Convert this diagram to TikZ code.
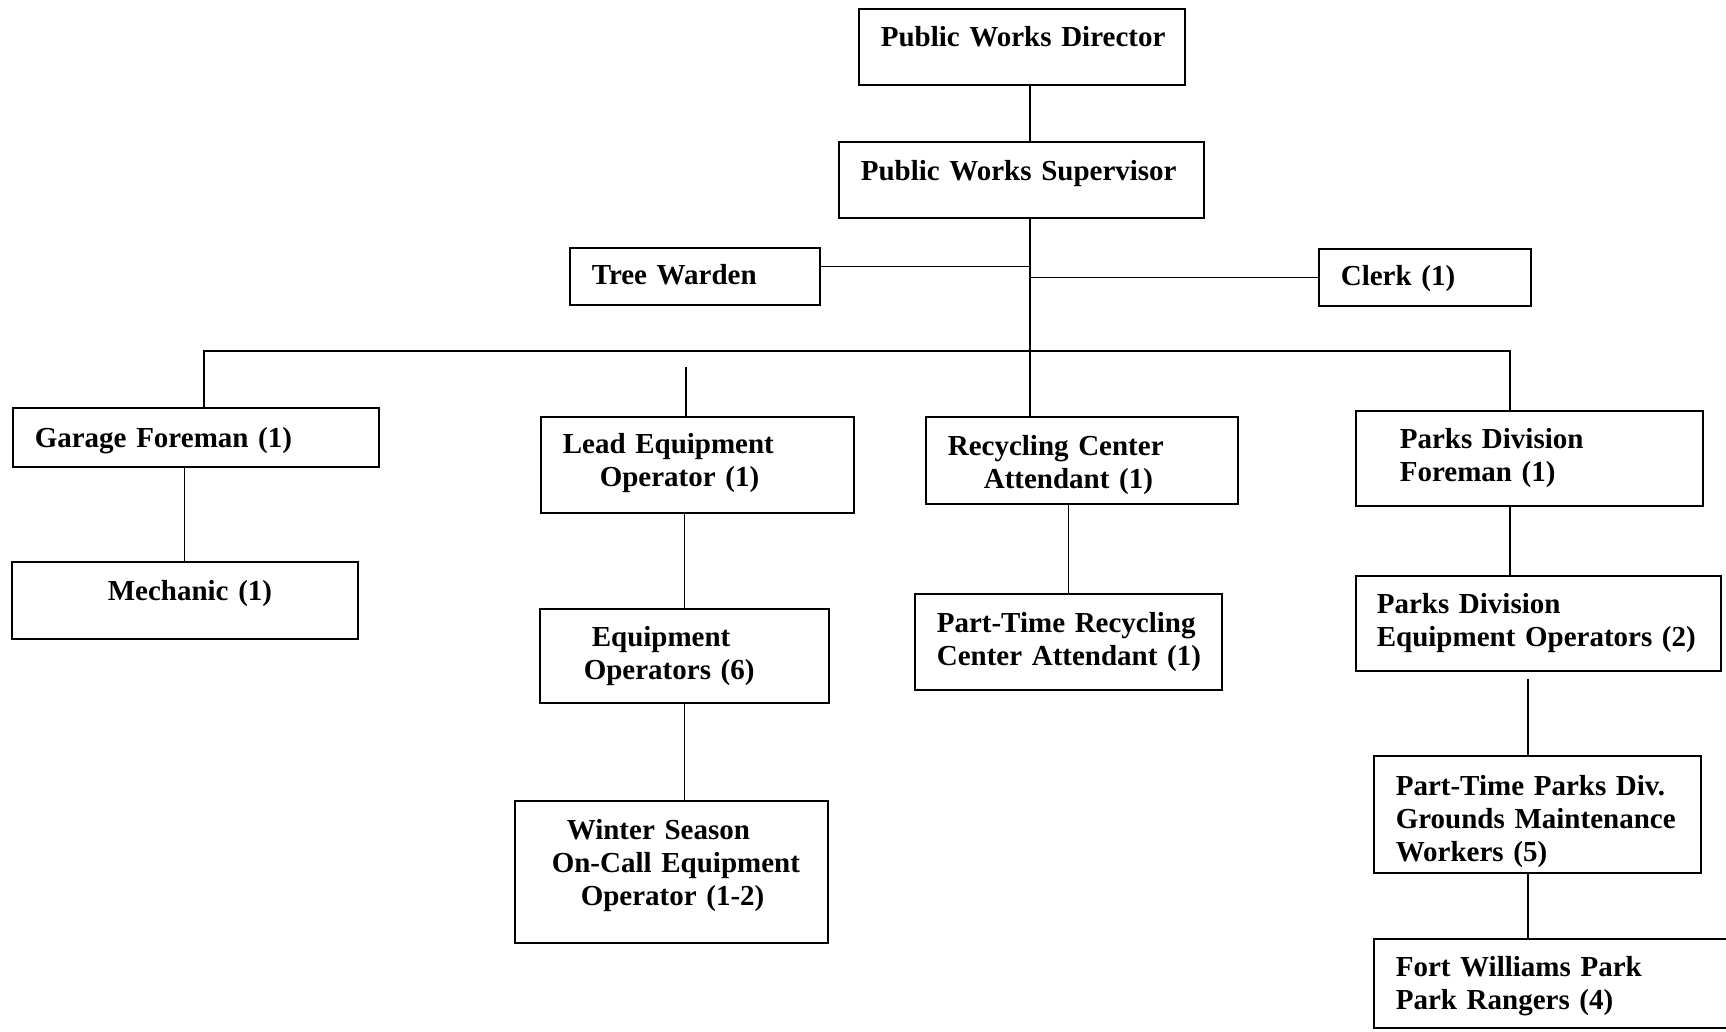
\documentclass[tikz,border=0pt]{standalone}
\usepackage{fontspec}
\setmainfont{Liberation Serif}
\usepackage{tikz}

\begin{document}
\begin{tikzpicture}[x=1pt, y=-1pt,
    post/.style={draw, line width=1.6pt, anchor=north west, align=left,
        inner xsep=12pt, inner ysep=0pt,
        font=\bfseries\fontsize{29}{33}\selectfont},
    link/.style={line width=1.2pt}]
    \clip (0,0) rectangle (1726,1031);
    \fill[white] (0,0) rectangle (1726,1031);

    % top of the chart
    \node[post, text width=302pt, text height=38pt, text depth=38pt] (dir) at (858,8) {\hspace*{10pt}Public Works Director};
    \node[post, text width=341pt, text height=39pt, text depth=37pt] (sup) at (838,141) {\hspace*{10pt}Public Works Supervisor};
    \node[post, text width=226pt, text height=37pt, text depth=20pt] (tree) at (569,247) {\hspace*{10pt}Tree Warden};
    \node[post, text width=188pt, text height=37pt, text depth=20pt] (clerk) at (1318,248) {\hspace*{10pt}Clerk (1)};

    % divisions
    \node[post, text width=342pt, text height=40pt, text depth=19pt] (garage) at (12,407) {\hspace*{10pt}Garage Foreman (1)};
    \node[post, text width=322pt, text height=39pt, text depth=38pt] (mech) at (11,561) {\hspace*{84pt}Mechanic (1)};
    \node[post, text width=289pt, text height=37pt, text depth=59pt] (lead) at (540,416) {\hspace*{10pt}Lead Equipment\\\hspace*{47pt}Operator (1)};
    \node[post, text width=265pt, text height=38pt, text depth=56pt] (eqop) at (539,608) {\hspace*{40pt}Equipment\\\hspace*{32pt}Operators (6)};
    \node[post, text width=289pt, text height=39pt, text depth=103pt] (winter) at (514,800) {\hspace*{40pt}Winter Season\\\hspace*{25pt}On-Call Equipment\\\hspace*{54pt}Operator (1-2)};
    \node[post, text width=288pt, text height=39pt, text depth=48pt] (recyc) at (925,416) {\hspace*{10pt}Recycling Center\\\hspace*{46pt}Attendant (1)};
    \node[post, text width=283pt, text height=39pt, text depth=57pt] (ptrecyc) at (914,593) {\hspace*{10pt}Part-Time Recycling\\\hspace*{10pt}Center Attendant (1)};
    \node[post, text width=323pt, text height=38pt, text depth=57pt] (parksf) at (1355,410) {\hspace*{32pt}Parks Division\\\hspace*{32pt}Foreman (1)};
    \node[post, text width=341pt, text height=38pt, text depth=57pt] (parkseq) at (1355,575) {\hspace*{9pt}Parks Division\\\hspace*{9pt}Equipment Operators (2)};
    \node[post, text width=303pt, text height=40pt, text depth=77pt] (ptparks) at (1373,755) {\hspace*{10pt}Part-Time Parks Div.\\\hspace*{10pt}Grounds Maintenance\\\hspace*{10pt}Workers (5)};
    \node[post, text width=343pt, text height=38pt, text depth=51pt] (fort) at (1373,938) {\hspace*{10pt}Fort Williams Park\\\hspace*{10pt}Park Rangers (4)};

    % connectors
    \coordinate (hub) at (1030,351);
    \coordinate (busL) at (204,351);
    \coordinate (busR) at (1510,351);
    \coordinate (tw) at ([yshift=10pt]tree.east);
    \coordinate (ls) at (686,367);
    \coordinate (pg) at (1528,679);

    \draw[link] (dir.south -| hub) -- (sup.north -| hub);
    \draw[link] (sup.south -| hub) -- (recyc.north -| hub);
    \draw[link] (tw) -- (tw -| hub);
    \draw[link] (clerk.west) -- (clerk.west -| hub);
    \draw[link] (garage.north -| busL) -- (busL) -- (busR) -- (parksf.north -| busR);
    \draw[link] (ls) -- (ls |- lead.north);
    \draw[link] (mech.north) -- (mech.north |- garage.south);
    \draw[link] (eqop.north) -- (eqop.north |- lead.south);
    \draw[link] (eqop.south) -- (eqop.south |- winter.north);
    \draw[link] (ptrecyc.north) -- (ptrecyc.north |- recyc.south);
    \draw[link] (parksf.south -| busR) -- (parkseq.north -| busR);
    \draw[link] (pg) -- (pg |- ptparks.north);
    \draw[link] (ptparks.south -| pg) -- (fort.north -| pg);
\end{tikzpicture}
\end{document}
